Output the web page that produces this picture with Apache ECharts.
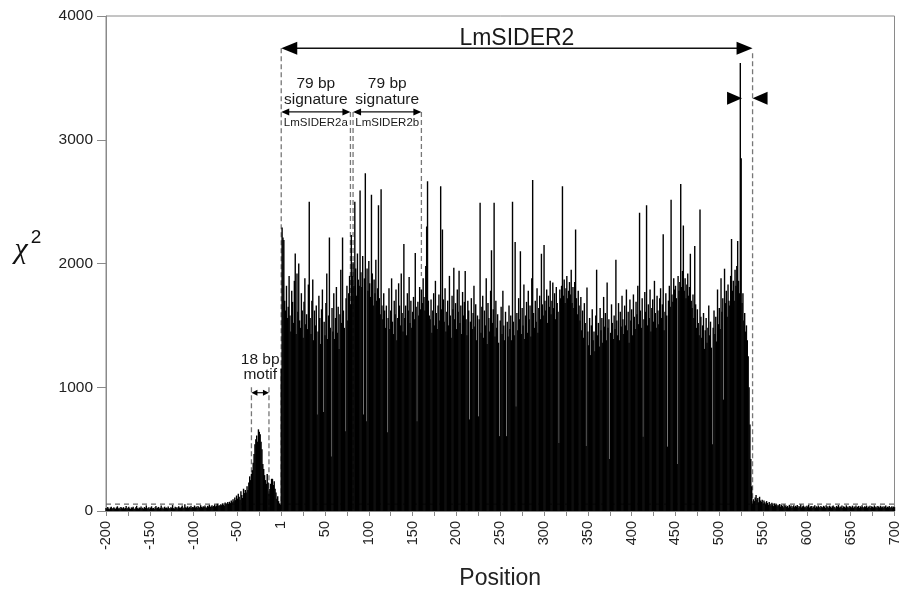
<!DOCTYPE html>
<html><head><meta charset="utf-8">
<script src="https://cdn.jsdelivr.net/npm/echarts@6/dist/echarts.min.js"></script>
<style>html,body{margin:0;padding:0;background:#fff}#c{width:902px;height:595px}</style>
</head><body><div id="c"></div>
<script>
// ---- data (chi-square per position) ----
const upstreamStart = -200;
const upstream = [
25,18,32,21,15,28,35,19,24,30,
22,17,29,38,20,26,16,33,27,21,
31,19,24,40,18,27,35,22,16,29,
26,34,20,17,30,42,23,19,28,25,
36,21,27,18,32,24,45,20,26,31,
19,28,38,22,25,17,30,41,23,27,
33,20,26,44,21,29,18,35,24,28,
22,37,25,19,31,27,48,23,20,34,
26,30,21,39,28,24,33,45,22,29,
55,31,26,38,24,35,29,42,27,33,
30,44,28,36,25,40,32,27,47,34,
29,38,33,45,31,27,42,36,50,33,
39,46,35,41,52,37,44,58,40,48,
43,55,47,62,50,45,68,53,60,72,
58,75,64,85,70,95,78,110,88,125,
100,140,115,90,160,130,105,180,145,170,
150,200,170,230,280,250,300,330,390,460,
540,580,610,560,660,640,620,560,500,380,
340,290,250,220,300,230,140,180,220,260,
260,210,240,180,150,100,120,80,60,50
];
const elementStart = 0;
const element = [
1150,2290,2210,2190,1700,1620,1820,1560,1650,1900,
1580,1450,1780,1690,1520,1860,2080,1430,1920,1610,
2000,1540,1480,1760,1620,1400,1690,1880,1510,1590,
1470,1830,2500,1560,1430,1700,1870,1380,1620,1500,
1660,780,1450,1740,1560,1350,1630,1790,800,1530,
1420,1680,1920,1390,1580,2210,1480,440,1640,1450,
1760,1390,1560,1810,1440,1650,1310,1590,1950,1520,
2210,1620,1480,645,1720,1820,1540,1760,1900,1670,
2230,1900,2010,1820,2500,1960,1740,2080,1870,1820,
2590,1930,1810,2060,780,1880,2730,725,1960,1780,
2020,1840,1730,2555,1920,1660,1870,1760,2030,1700,
1800,2470,1720,1590,2600,1660,1550,1760,1620,1480,
1660,637,1560,1800,1470,1620,1880,1530,1430,1700,
1590,1790,1380,1560,1840,1660,1500,1920,1600,1450,
2157,1560,1660,1420,1760,1620,1890,1520,1700,1480,
1610,1730,1550,2085,1650,725,1690,1580,1810,1630,
1790,1680,1880,1730,1620,1980,2300,2665,1700,1580,
1550,1710,1440,1620,1760,1500,1860,1600,1470,1660,
1750,1540,2625,1630,2275,1710,1530,1800,1450,1610,
1700,1500,1900,1580,1400,1740,1630,1966,1550,1680,
1470,1790,1610,1942,1520,1660,1430,1770,1580,1690,
1940,1550,1420,1700,1620,740,1530,1720,1470,1600,
1820,1490,1670,1380,1580,765,1550,2490,1440,1650,
1740,1400,1620,1500,1880,1350,1680,1560,1450,1780,
2107,1520,1630,2490,1410,1700,1480,1590,1360,605,
1540,1650,1430,1780,1500,1380,1610,605,1530,1410,
1660,1470,1580,1380,2500,1530,1420,2173,845,1600,
1460,1720,1550,2100,1430,1640,1500,1830,1390,1580,
1690,1440,1780,1550,1660,1410,1880,2675,1600,1480,
1700,1530,1800,1440,1640,1740,1550,2078,1670,1580,
2150,1700,1620,1790,1520,1740,1650,1860,1590,1700,
1847,1640,1760,1550,1810,1680,1610,550,1790,1720,
1820,2625,1740,1870,1680,1800,1900,1720,1780,1850,
1750,1950,1680,1810,1640,1850,2275,1720,1590,1780,
1660,1540,1730,1460,1620,1400,1680,1520,525,1807,
1450,1340,1560,1260,1500,1630,1380,1450,1290,1580,
1950,1420,1520,1330,1640,1460,1560,1360,1730,1490,
1600,1380,1847,1480,1550,420,1440,1670,1520,1390,
1580,1470,2030,1540,1420,1680,1380,1610,1490,1740,
1550,1430,1660,1500,1790,1460,1610,1360,1710,1540,
1630,1420,1750,1570,1470,1690,1590,1820,1510,2410,
1620,1480,1720,600,1550,1770,1610,2470,1500,1670,
1560,1790,1450,1640,1710,1530,1860,1600,1480,1740,
1620,1510,1720,1800,1560,1670,2237,1460,1610,1760,
1580,520,1700,1820,1650,2515,1750,1690,1880,1790,
1820,1720,380,1900,1780,1850,2643,1810,1940,2308,
1780,1880,1720,1830,1920,1740,1810,2078,1700,1640,
1750,1560,2141,1670,1480,1630,1520,1420,2436,1570,
1400,1500,1600,1310,1460,1560,1360,1480,1660,1420,
1530,1320,540,1480,1620,1430,1570,1370,1790,1510,
1640,1470,1880,1610,1720,900,1958,1680,1780,1570,
1830,1700,1660,1900,2197,1780,1860,1700,1950,1820,
1980,2181,1860,1760,3620,2850,1680,1760,1540,1600,
1450,1500,1380,1250,1000,700,420,200
];
const downstreamStart = 538;
const downstream = [
60,95,80,110,130,90,105,70,115,85,
75,90,60,85,70,55,80,65,50,72,
58,45,66,52,40,61,48,55,38,50,
44,57,35,49,42,30,53,38,46,33,
41,28,50,36,44,25,39,47,31,42,
35,48,27,40,33,52,29,38,45,30,
37,26,43,34,49,28,36,41,24,39,
32,46,27,38,30,44,35,25,40,33,
29,42,36,24,47,31,38,27,43,34,
26,39,45,30,35,23,41,32,48,28,
37,30,44,25,38,33,27,46,31,36,
24,40,34,29,43,26,37,31,45,28,
35,41,25,38,30,47,33,27,39,32,
44,26,36,30,42,24,38,33,29,45,
31,37,25,40,34,28,43,30,36,26,
39,32,45,27,35,30,41,25,33,38,
29,36,31
];
const threshold = 55;
const xTickValues = [-200,-150,-100,-50,1,50,100,150,200,250,300,350,400,450,500,550,600,650,700];
const yTicks = [0,1000,2000,3000,4000];

// annotation anchors (data units)
const elementSpan = [0, 538];
const sigA = [0, 79];
const sigB = [82, 160];
const motif = [-34, -14];
const spikePos = 526;

// ---- build ----
const points = [];
upstream.forEach((v,i)=>points.push([upstreamStart+i, v]));
element.forEach((v,i)=>points.push([elementStart+i, v]));
downstream.forEach((v,i)=>points.push([downstreamStart+i, v]));

const GREY = '#8a8a8a';
const FONT = "'Liberation Sans', Arial, Helvetica, sans-serif";
const chart = echarts.init(document.getElementById('c'), null, {renderer:'canvas'});
chart.setOption({
  animation:false,
  backgroundColor:'#fff',
  grid:{left:106,right:7,top:16,bottom:77,show:true,borderColor:GREY,borderWidth:1,backgroundColor:'transparent'},
  xAxis:{type:'value',min:-200,max:700,interval:50,
    axisLine:{onZero:false,lineStyle:{color:GREY,width:1}},
    axisTick:{length:5,lineStyle:{color:GREY}},
    minorTick:{show:true,splitNumber:2,length:5,lineStyle:{color:GREY}},
    splitLine:{show:false},
    axisLabel:{rotate:90,margin:10,fontSize:14.5,color:'#222',fontFamily:FONT,
      formatter:v=>{const t=xTickValues.find(t=>Math.abs(t-v)<=1); return t===undefined?'':String(t);}},
    name:'Position',nameLocation:'middle',nameGap:56,
    nameTextStyle:{fontSize:23,color:'#222',fontFamily:FONT}},
  yAxis:{type:'value',min:yTicks[0],max:yTicks[yTicks.length-1],interval:1000,
    axisLine:{show:true,onZero:false,lineStyle:{color:GREY,width:1}},
    axisTick:{show:true,length:9,lineStyle:{color:GREY}},
    splitLine:{show:false},
    axisLabel:{fontSize:15.5,color:'#222',margin:13,fontFamily:FONT,formatter:v=>String(v)}},
  series:[
    {type:'line',data:[[-200,threshold],[700,threshold]],symbol:'none',z:1,silent:true,
     lineStyle:{color:'#666',width:1.2,type:[5,4]}},
    {type:'bar',data:points,barWidth:1.4,z:3,itemStyle:{color:'#000'},silent:true}
  ]
});

const P = (x,y)=>chart.convertToPixel({gridIndex:0},[x,y]);
const g = [];
const dash = (x,y1,y2)=>{const a=P(x,y1),b=P(x,y2);
  g.push({type:'line',z:1,silent:true,shape:{x1:a[0],y1:a[1],x2:b[0],y2:b[1]},
    style:{stroke:'#777',lineWidth:1.3,lineDash:[5,3]}});};
const dblArrow = (x1,x2,yv,hl,hw,lw)=>{const a=P(x1,yv),b=P(x2,yv);const y=a[1];
  g.push({type:'line',z:10,silent:true,shape:{x1:a[0]+hl*0.6,y1:y,x2:b[0]-hl*0.6,y2:y},style:{stroke:'#111',lineWidth:lw}});
  g.push({type:'polygon',z:10,silent:true,shape:{points:[[a[0],y],[a[0]+hl,y-hw/2],[a[0]+hl,y+hw/2]]},style:{fill:'#000'}});
  g.push({type:'polygon',z:10,silent:true,shape:{points:[[b[0],y],[b[0]-hl,y-hw/2],[b[0]-hl,y+hw/2]]},style:{fill:'#000'}});};
const txt = (x,yv,s,size)=>{const p=P(x,yv);
  g.push({type:'text',z:10,silent:true,x:p[0],y:p[1],style:{text:s,fill:'#1a1a1a',font:size+'px '+FONT,align:'center',verticalAlign:'middle'}});};

// vertical dashed guides
dash(elementSpan[0],3740,0);
dash(elementSpan[1],3700,0);
dash(sigA[1],3225,0);
dash(sigB[0],3225,0);
dash(sigB[1],3225,1900);
dash(motif[0],1000,0);
dash(motif[1],1000,0);
// arrows
dblArrow(elementSpan[0],elementSpan[1],3740,16,13,1.6);
dblArrow(sigA[0],sigA[1],3225,8,7,1.3);
dblArrow(sigB[0],sigB[1],3225,8,7,1.3);
dblArrow(motif[0],motif[1],956,6,6,1.2);
// labels
txt((elementSpan[0]+elementSpan[1])/2,3820,'LmSIDER2',23);
txt((sigA[0]+sigA[1])/2,3450,'79 bp',15.5);
txt((sigA[0]+sigA[1])/2,3325,'signature',15.5);
txt((sigA[0]+sigA[1])/2,3140,'LmSIDER2a',11.5);
txt((sigB[0]+sigB[1])/2,3450,'79 bp',15.5);
txt((sigB[0]+sigB[1])/2,3325,'signature',15.5);
txt((sigB[0]+sigB[1])/2,3140,'LmSIDER2b',11.5);
txt((motif[0]+motif[1])/2,1225,'18 bp',15.5);
txt((motif[0]+motif[1])/2,1100,'motif',15.5);
// pointer triangles
const tL=P(spikePos,3335), tR=P(elementSpan[1],3335);
g.push({type:'polygon',z:10,silent:true,shape:{points:[[tL[0],tL[1]],[tL[0]-15,tL[1]-6.5],[tL[0]-15,tL[1]+6.5]]},style:{fill:'#000'}});
g.push({type:'polygon',z:10,silent:true,shape:{points:[[tR[0],tR[1]],[tR[0]+15,tR[1]-6.5],[tR[0]+15,tR[1]+6.5]]},style:{fill:'#000'}});
// y-axis title chi^2
g.push({type:'text',z:10,silent:true,x:21,y:250,style:{text:'χ',fill:'#111',font:"italic 30px 'Liberation Serif', 'DejaVu Serif', serif",align:'center',verticalAlign:'middle'}});
g.push({type:'text',z:10,silent:true,x:36,y:238,style:{text:'2',fill:'#111',font:'19px '+FONT,align:'center',verticalAlign:'middle'}});
chart.setOption({graphic:g});
</script></body></html>
